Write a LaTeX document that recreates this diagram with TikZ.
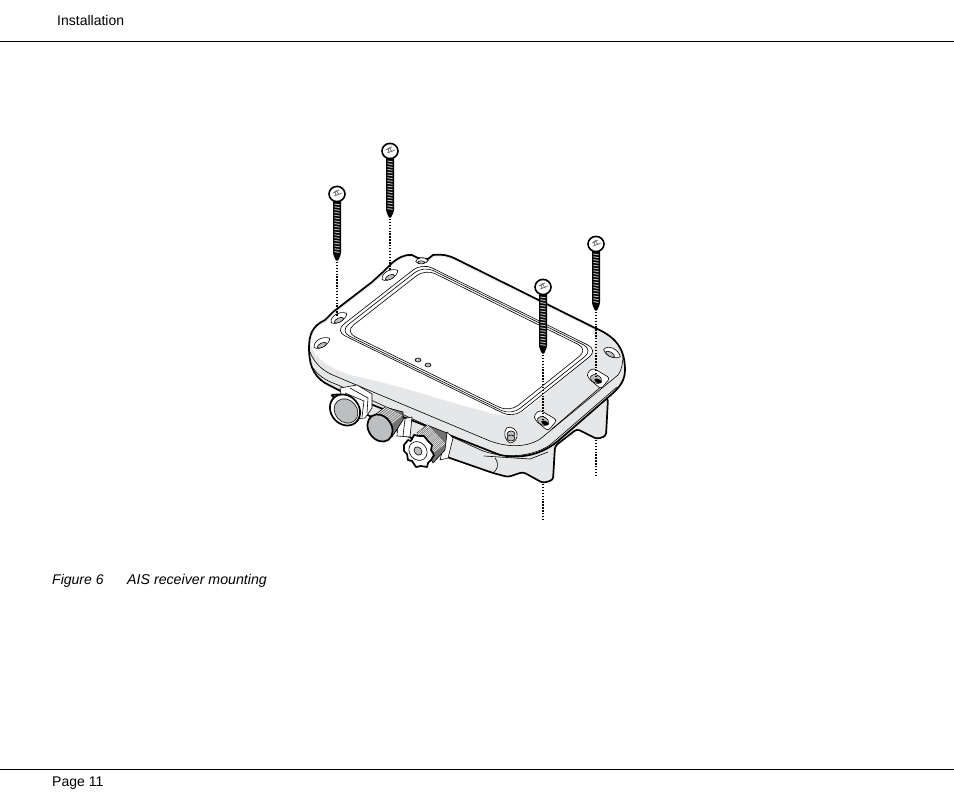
\documentclass[tikz,border=0pt]{standalone}
\usepackage{fontspec}
\setmainfont{Liberation Sans}
\usetikzlibrary{calc}
\definecolor{casegray}{HTML}{E6E7E8}
\definecolor{capgray}{HTML}{BCBEC0}
\tikzset{
  outline/.style={line width=1.7pt,line join=round,black},
  thinline/.style={line width=.6pt,line join=round,black},
  guide/.style={line width=1.4pt,dash pattern=on 1.4pt off 1.5pt,black},
  rule/.style={line width=.7pt,black},
  pagetext/.style={anchor=base west,inner sep=0pt,font=\fontsize{14}{16}\selectfont},
  screw/.pic={
    \fill[black,rounded corners=1.5pt] (-4,6) -- (4,6) -- (4,60) -- (1,67) -- (-1,67) -- (-4,60) -- cycle;
    \foreach \t in {10,12.8,...,60} {
      \draw[black!25,line width=1pt] (-2.6,\t) -- (2.6,\t+.8);
    }
    \draw[line width=1.6pt,fill=white] (0,0) ellipse [x radius=8pt,y radius=7.6pt];
    \draw[line width=.7pt,black!55] (-4,-1) -- (2,-4) (-3,2) -- (5,-1) (-1,-4) -- (2,1) (-2,-3) -- (-1,2);
    \coordinate (-tip) at (0,68);
  },
  % mounting lug, drawn about its hole
  lug/.pic={
    \draw[thinline,fill=white,rounded corners=3pt] (-9,-8) -- (-3,-13) -- (14,-3) -- (5,8) -- (-8,-3) -- cycle;
    \draw[thinline,fill=capgray] (0,-2) ellipse [x radius=6pt,y radius=4pt,rotate=-25];
    \fill[black] (2,0) ellipse [x radius=4pt,y radius=2pt,rotate=-25];
  },
  slot/.pic={
    \draw[thinline,fill=white] (-9,1) .. controls (-8,-5) and (3,-7) .. (9,-1) .. controls (7,4) and (-5,6) .. cycle;
    \draw[thinline,fill=capgray] (-1,2) ellipse [x radius=5pt,y radius=2.2pt];
  }
}
\begin{document}
\begin{tikzpicture}[x=1pt,y=-1pt]
\useasboundingbox (0,0) rectangle (954,810);

% Page furniture
\draw[rule] (0,41.5) -- (954,41.5);
\draw[rule] (0,769.5) -- (954,769.5);
\node[pagetext] (header) at (57,25.5) {Installation};
\node[pagetext] (footer) at (52,786) {Page 11};
\node[pagetext] (figno) at (52,584) {\itshape Figure 6};
\node[pagetext] (figname) at (127,584) {\fontsize{14.2}{16}\selectfont\itshape AIS receiver mounting};

% Legs and lower case
\draw[outline,fill=casegray,rounded corners=3pt]
  (330,395) -- (447,457) -- (493,473) -- (508,477) -- (523,472) -- (543,483)
  -- (553,480) -- (555,446) -- (577,429) -- (597,439) -- (606,436) -- (608,398) -- (560,380) -- cycle;
\draw[thinline] (495,458) .. controls (500,465) and (497,470) .. (493,473);
\draw[thinline] (484,456) -- (530,459) -- (548,452);

% Case body
\draw[outline,fill=casegray]
  (309,348) .. controls (309,335) and (312,326) .. (325,320) -- (333,312) -- (372,282)
  -- (383,272) -- (392,263) .. controls (398,258) and (405,254) .. (412,255)
  -- (418,258) -- (428,259) -- (433,255) .. controls (442,254) and (448,255) .. (456,259)
  -- (593,327) .. controls (612,335) and (625,345) .. (625,370)
  .. controls (625,380) and (620,387) .. (612,394) -- (558,441)
  .. controls (545,452) and (525,460) .. (500,455) -- (350,396) -- (325,383)
  .. controls (312,375) and (309,362) .. cycle;

% White top face
\fill[white]
  (311,345) .. controls (311,335) and (314,328) .. (326,322) -- (334,314) -- (373,284)
  -- (393,265) .. controls (398,260) and (405,256) .. (412,257)
  -- (418,260) -- (428,261) -- (433,257) .. controls (442,256) and (448,257) .. (455,261)
  -- (592,329) -- (596,340) -- (591,355) -- (532,405)
  .. controls (522,415) and (510,420) .. (480,410)
  .. controls (440,400) and (400,385) .. (350,375)
  .. controls (335,370) and (315,360) .. cycle;

% Flange edge lines
\draw[thinline] (310,352) .. controls (315,365) and (325,372) .. (335,376) -- (490,441)
  .. controls (515,450) and (535,445) .. (545,435) -- (618,375) .. controls (622,370) and (623,362) .. (623,355);
\draw[thinline] (313,368) .. controls (320,378) and (330,382) .. (338,385) -- (483,451)
  .. controls (510,460) and (535,455) .. (550,445) -- (617,387);
\draw[thinline] (552,429) -- (603,385);

% Lid with its three rim lines
\coordinate (lidA) at (335,331);
\coordinate (lidB) at (422,263);
\coordinate (lidC) at (598,350);
\coordinate (lidD) at (513,418);
\coordinate (lidmid) at (466.5,341);
\foreach \s in {1,.965,.925} {
  \draw[thinline,rounded corners=11pt] ($(lidmid)!\s!(lidA)$) -- ($(lidmid)!\s!(lidB)$)
    -- ($(lidmid)!\s!(lidC)$) -- ($(lidmid)!\s!(lidD)$) -- cycle;
}

% Indicator holes
\draw[thinline,fill=capgray] (418,360) ellipse [x radius=3pt,y radius=2pt];
\draw[thinline,fill=capgray] (428,365) ellipse [x radius=3pt,y radius=2pt];

% Lugs and slots
\pic[rotate=25] at (339,318) {slot};
\pic[rotate=25] at (390,275) {slot};
\pic[rotate=25] at (322,343) {slot};
\pic[rotate=-30] at (612,353) {slot};
\pic[scale=.7] at (422,261) {slot};
\pic at (543,423) {lug};
\pic at (596,381) {lug};
\draw[thinline,fill=white] (505,431) .. controls (506,425) and (514,426) .. (517,433)
  .. controls (518,439) and (514,443) .. (510,443) .. controls (506,441) and (504,436) .. cycle;
\draw[thinline,fill=capgray] (511,434) ellipse [x radius=4pt,y radius=3pt];
\draw[thinline,fill=capgray] (511,438) ellipse [x radius=4pt,y radius=3pt];

% First connector
\draw[thinline,fill=white] (340,388) -- (357,385) -- (372,394) -- (372,408) -- (365,418) -- (345,420) -- cycle;
\draw[thinline] (345,393) -- (364,401) -- (362,417) (350,388) -- (368,398) -- (367,413);
\draw[outline,fill=white] (345,410) ellipse [x radius=16.5pt,y radius=14pt,rotate=-50];
\draw[thinline,fill=capgray] (346,411) ellipse [x radius=13pt,y radius=11pt,rotate=-50];

% Second connector
\draw[thinline,fill=white] (398,420) -- (412,417) -- (410,437) -- (397,436) -- cycle;
\draw[thinline] (405,419) -- (403,436);
\draw[thinline,fill=black!55] (375,415) -- (385,407) -- (403,412) -- (403,420) -- (392,437) -- cycle;
\foreach \k in {0,...,8} {
  \draw[white,line width=.5pt] ($(375,415)!\k/8!(385,407)$) -- ++(17,9);
}
\draw[outline,fill=capgray] (380,428) ellipse [x radius=14.5pt,y radius=11.5pt,rotate=-55];

% Third connector
\draw[thinline,fill=white] (447,432) -- (453,438) -- (448,458) -- (440,460) -- cycle;
\draw[thinline,fill=black!55] (417,433) -- (427,425) -- (447,433) -- (445,450) -- (433,463) -- cycle;
\foreach \k in {0,...,9} {
  \draw[white,line width=.5pt] ($(417,433)!\k/9!(427,425)$) -- ++(18,19);
}
\draw[outline,fill=white] (404,445) -- (408,440) -- (411,441) -- (414,435) -- (419,436) -- (424,436) -- (428,441) -- (432,445) -- (431,450)
  -- (434,455) -- (431,460) -- (428,463) -- (427,467) -- (421,466) -- (416,467) -- (412,461) -- (408,460) -- (407,454) -- (404,451) -- cycle;
\draw[thinline] (418,451) ellipse [x radius=10pt,y radius=8.5pt,rotate=-50];
\draw[thinline,fill=capgray] (418,451) ellipse [x radius=4.5pt,y radius=3.6pt,rotate=-50];

% Screws
\pic (srwa) at (337,194) {screw};
\pic (srwb) at (390,151) {screw};
\pic (srwc) at (543,287) {screw};
\pic (srwd) at (596,244) {screw};

% Guide lines
\coordinate (enda) at (337,316);
\coordinate (endb) at (390,270);
\coordinate (endc) at (543,421);
\coordinate (endd) at (596,380);
\coordinate (belowc) at (543,484);
\coordinate (belowcend) at (543,519);
\coordinate (belowd) at (596,440);
\coordinate (belowdend) at (596,476);
\draw[guide] (srwa-tip) -- (enda);
\draw[guide] (srwb-tip) -- (endb);
\draw[guide] (srwc-tip) -- (endc);
\draw[guide] (srwd-tip) -- (endd);
\draw[guide] (belowc) -- (belowcend);
\draw[guide] (belowd) -- (belowdend);
\end{tikzpicture}
\end{document}
